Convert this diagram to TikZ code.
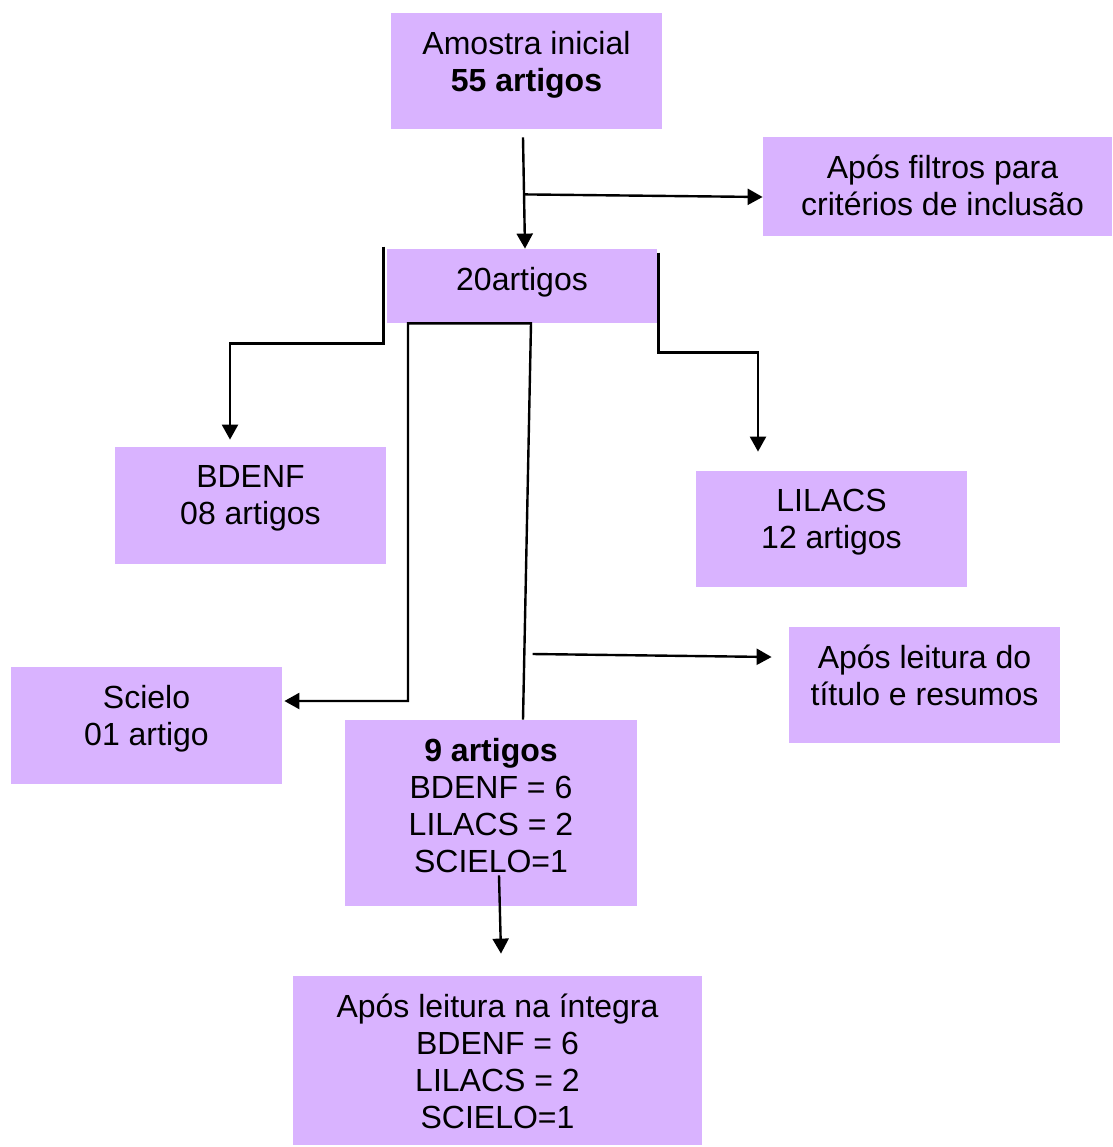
\documentclass[tikz,border=0pt]{standalone}
\usepackage{fontspec}
\setmainfont{Liberation Sans}
\usetikzlibrary{arrows.meta,calc}

\definecolor{lilas}{RGB}{217,179,255}

\tikzset{
    caixa/.style={fill=lilas, inner sep=0pt},
    txt/.style={anchor=north, inner sep=0pt, align=center, yshift=-9pt,
        font=\fontsize{16}{18.5}\selectfont},
    seta/.style={line width=1.2pt, -{Triangle[width=8pt,length=7.5pt]}}
}

\begin{document}
\begin{tikzpicture}[x=0.5pt,y=-0.5pt]
    
    \useasboundingbox (0,0) rectangle (1113,1147);
    
    \node[caixa, minimum width=135.5pt, minimum height=58pt] (ini) at (526.5,71) {};
    \node[caixa, minimum width=174.5pt, minimum height=49.5pt] (filt) at (937.5,186.5) {};
    \node[caixa, minimum width=135pt, minimum height=37pt] (vinte) at (522,286) {};
    \node[caixa, minimum width=135.5pt, minimum height=58.5pt] (bdenf) at (250.5,505.5) {};
    \node[caixa, minimum width=135.5pt, minimum height=58pt] (lilacs) at (831.5,529) {};
    \node[caixa, minimum width=135.5pt, minimum height=58pt] (titulo) at (924.5,685) {};
    \node[caixa, minimum width=135.5pt, minimum height=58.5pt] (scielo) at (146.5,725.5) {};
    \node[caixa, minimum width=146pt, minimum height=93pt] (nove) at (491,813) {};
    \node[caixa, minimum width=204.5pt, minimum height=84.5pt] (integra) at (497.5,1060.5) {};
    
    \node[txt] (ini-t) at (ini.north) {Amostra inicial\\\textbf{55 artigos}};
    \node[txt, xshift=2.5pt] (filt-t) at (filt.north) {Após filtros para\\critérios de inclusão};
    \node[txt] (vinte-t) at (vinte.north) {20artigos};
    \node[txt] (bdenf-t) at (bdenf.north) {BDENF\\08 artigos};
    \node[txt] (lilacs-t) at (lilacs.north) {LILACS\\12 artigos};
    \node[txt] (titulo-t) at (titulo.north) {Após leitura do\\título e resumos};
    \node[txt] (scielo-t) at (scielo.north) {Scielo\\01 artigo};
    \node[txt] (nove-t) at (nove.north) {\textbf{9 artigos}\\BDENF = 6\\LILACS = 2\\SCIELO=1};
    \node[txt] (integra-t) at (integra.north) {Após leitura na íntegra\\BDENF = 6\\LILACS = 2\\SCIELO=1};
    
    % amostra inicial -> 20 artigos
    \draw[seta] ($(ini.south)+(-3.5,8)$) -- ($(vinte.north)+(3,0)$);
    \coordinate (j1) at ($(ini.south)+(-2.5,65)$);
    \draw[seta] (j1) -- ($(filt.west)+(0,10.5)$);
    
    % bases
    \draw[seta] ($(vinte.north west)+(-3,-2)$) |- ($(bdenf.north)+(-20.5,-103)$) -- ($(bdenf.north)+(-20.5,-7)$);
    \draw[seta] ($(vinte.north east)+(1,4)$) |- ($(lilacs.north)+(-73.5,-118)$) -- ($(lilacs.north)+(-73.5,-19)$);
    \draw[seta] ($(nove.north)+(32,0)$) -- ($(vinte.south)+(9,0)$) -- ($(vinte.south)+(-114,0)$) |- ($(scielo.east)+(2,-24.5)$);
    
    \draw[seta] ($(titulo.west)+(-256,-31)$) -- ($(titulo.west)+(-17,-28)$);
    \draw[seta] ($(nove.south)+(8,-31)$) -- ($(integra.north)+(3.5,-22)$);
    
\end{tikzpicture}
\end{document}
